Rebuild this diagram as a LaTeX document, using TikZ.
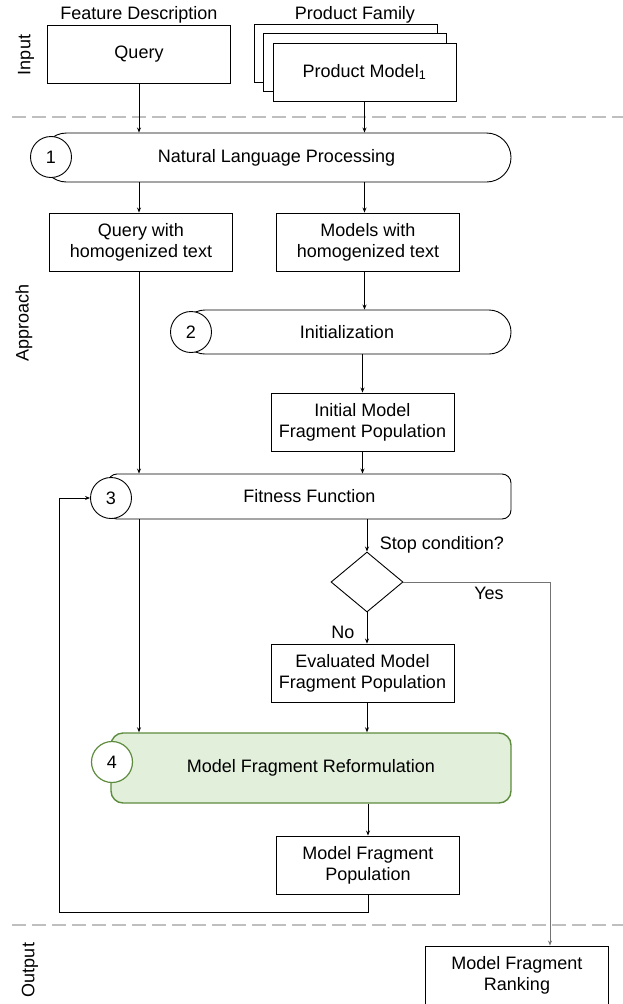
\documentclass[tikz,border=0pt]{standalone}
\usepackage{fontspec}
\setmainfont{Liberation Sans}
\usetikzlibrary{arrows.meta,shapes.geometric}
\newcommand{\sepcolor}{black!25}
\newcommand{\boxw}{183pt}
\newcommand{\boxh}{58pt}
\definecolor{reformfill}{HTML}{E2EFDA}
\definecolor{reformedge}{HTML}{5E8C3F}
\tikzset{
  stage/.style={draw, fill=white, minimum width=\boxw, minimum height=\boxh, inner sep=0pt, align=center},
  bar/.style={draw, fill=white, inner sep=0pt},
  num/.style={circle, draw, fill=white, minimum size=41pt, inner sep=0pt},
  arr/.style={-{Stealth[length=5pt,width=4pt]}},
  sep/.style={draw=\sepcolor, line width=2pt, dash pattern=on 14pt off 6pt},
  side/.style={rotate=90}
}

\begin{document}
\begin{tikzpicture}[x=1pt, y=-1pt, line width=0.9pt, font=\fontsize{18}{20.7}\selectfont]
\useasboundingbox (0,0) rectangle (623,1004);
%input
\node[side] (input) at (26,55) {Input};
\node (featlbl) at (139,15) {Feature Description};
\node[stage] (query) at (139,54.5) {Query};
\node (famlbl) at (355,15) {Product Family};
\node[stage] (pm3) at (345.5,53) {};
\node[stage] (pm2) at (354.5,62) {};
\node[stage] (pm1) at (364.5,72) {Product Model\textsubscript{1}};
\draw[sep] (12,117) -- (623,117);
%approach
\node[side] (approach) at (24,323) {Approach};
\node[bar, rounded corners=24.5pt, minimum width=469pt, minimum height=49pt] (nlp) at (276.5,157.5) {Natural Language Processing};
\node[num] (n1) at (51,157) {1};
\draw[arr] (query.south) -- (query.south |- nlp.north);
\draw[arr] (pm1.south) -- (pm1.south |- nlp.north);
\node[stage] (qhom) at (141,242) {Query with\\homogenized text};
\node[stage] (mhom) at (368,242) {Models with\\homogenized text};
\draw[arr] (nlp.south -| query) -- (query |- qhom.north);
\draw[arr] (nlp.south -| pm1) -- (pm1 |- mhom.north);
%2
\node[bar, rounded corners=22pt, minimum width=328pt, minimum height=44pt] (init) at (347,332) {Initialization};
\node[num] (n2) at (191,332) {2};
\draw[arr] (mhom.south -| pm1) -- (pm1 |- init.north);
\node[stage] (ipop) at (362.5,422) {Initial Model\\Fragment Population};
\draw[arr] (init.south -| ipop) -- (ipop.north);
%3
\node[bar, rounded corners=9pt, minimum width=403pt, minimum height=45pt] (fit) at (309.5,496.5) {Fitness Function};
\node[num] (n3) at (111,498) {3};
\draw[arr] (ipop.south) -- (ipop |- fit.north);
\draw[arr] (qhom.south -| query) -- (query |- fit.north);
\node[diamond, draw, fill=white, minimum width=72pt, minimum height=60pt, inner sep=0pt] (stop) at (367,582) {};
\draw[arr] (fit.south -| stop) -- (stop.north);
\node[anchor=west] (stoplbl) at (376,545) {Stop condition?};
\node (nolbl) at (343,632) {No};
\node (yeslbl) at (489,593) {Yes};
\node[stage] (epop) at (362.5,673) {Evaluated Model\\Fragment Population};
\draw[arr] (stop.south) -- (stop.south |- epop.north);
%4
\node[bar, draw=reformedge, fill=reformfill, line width=1.4pt, rounded corners=12pt, minimum width=400pt, minimum height=70pt] (reform) at (311,768) {Model Fragment Reformulation};
\node[num, draw=reformedge, line width=1.2pt] (n4) at (112,762) {4};
\draw[arr] (fit.south -| query) -- (query |- reform.north);
\draw[arr] (epop.south -| stop) -- (stop |- reform.north);
\node[stage] (mpop) at (368,865) {Model Fragment\\Population};
\draw[arr] (reform.south -| mpop) -- (mpop.north);
\coordinate (back) at (59,912);
\draw[arr] (mpop.south) |- (back) |- (n3.west);
\draw[sep] (12,925) -- (623,925);
%output
\node[side] (output) at (30,970) {Output};
\node[stage] (rank) at (517,975) {Model Fragment\\Ranking};
\coordinate (yesx) at (550,0);
\draw[arr, draw=black!55] (stop.east) -| (rank.north -| yesx);
\end{tikzpicture}
\end{document}
